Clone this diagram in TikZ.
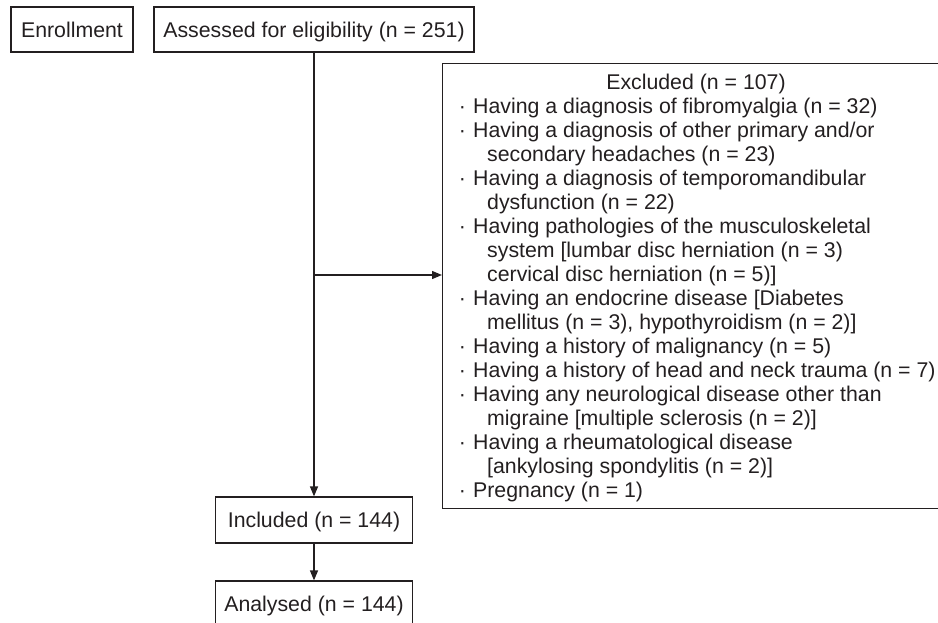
\documentclass[tikz,border=0pt]{standalone}
\usepackage{fontspec}
\setmainfont{Liberation Sans}
\usetikzlibrary{arrows.meta}
\definecolor{ink}{HTML}{231F20}
\newcommand\exbul{\makebox[14.3pt][l]{·}}
\newcommand\excont{\hspace*{28.3pt}}
\begin{document}
\begin{tikzpicture}[x=1pt,y=-1pt,
  font=\fontsize{21.3}{24}\selectfont,
  box/.style={draw=ink, line width=1.2pt, text=ink, inner sep=0pt,
    minimum height=45pt, text height=15.3pt, text depth=0pt, align=center},
  exl/.style={anchor=base west, inner sep=0pt, text=ink},
  arr/.style={draw=ink, line width=1.2pt, -{Triangle[length=10pt,width=8pt]}}]
\useasboundingbox (0,0) rectangle (938,623);

\node[box, minimum width=122pt] (enrol) at (72,29.5) {Enrollment};
\node[box, minimum width=320pt] (assess) at (314,29.5) {Assessed for eligibility (n = 251)};
\node[box, minimum width=197pt, minimum height=46pt] (incl) at (314,520) {Included (n = 144)};
\node[box, minimum width=197pt, minimum height=46pt] (anal) at (314,604) {Analysed (n = 144)};

\node[draw=ink, line width=1.2pt, inner sep=0pt, anchor=north west,
  minimum width=508pt, minimum height=445pt] (exbox) at (442,63) {};

\node[exl, anchor=base] (extitle) at (696,90) {Excluded (n = 107)};
\node[exl] (e1) at (458.7,114.00) {\exbul Having a diagnosis of fibromyalgia (n = 32)};
\node[exl] (e2) at (458.7,137.95) {\exbul Having a diagnosis of other primary and/or};
\node[exl] (e3) at (458.7,161.90) {\excont secondary headaches (n = 23)};
\node[exl] (e4) at (458.7,185.85) {\exbul Having a diagnosis of temporomandibular};
\node[exl] (e5) at (458.7,209.80) {\excont dysfunction (n = 22)};
\node[exl] (e6) at (458.7,233.75) {\exbul Having pathologies of the musculoskeletal};
\node[exl] (e7) at (458.7,257.70) {\excont system [lumbar disc herniation (n = 3)};
\node[exl] (e8) at (458.7,281.65) {\excont cervical disc herniation (n = 5)]};
\node[exl] (e9) at (458.7,305.60) {\exbul Having an endocrine disease [Diabetes};
\node[exl] (e10) at (458.7,329.55) {\excont mellitus (n = 3), hypothyroidism (n = 2)]};
\node[exl] (e11) at (458.7,353.50) {\exbul Having a history of malignancy (n = 5)};
\node[exl] (e12) at (458.7,377.45) {\exbul Having a history of head and neck trauma (n = 7)};
\node[exl] (e13) at (458.7,401.40) {\exbul Having any neurological disease other than};
\node[exl] (e14) at (458.7,425.35) {\excont migraine [multiple sclerosis (n = 2)]};
\node[exl] (e15) at (458.7,449.30) {\exbul Having a rheumatological disease};
\node[exl] (e16) at (458.7,473.25) {\excont [ankylosing spondylitis (n = 2)]};
\node[exl] (e17) at (458.7,497.20) {\exbul Pregnancy (n = 1)};

\coordinate (branch) at (314,275);
\draw[arr] (assess.south) -- (incl.north);
\draw[arr] (branch) -- (exbox.west |- branch);
\draw[arr] (incl.south) -- (anal.north);
\end{tikzpicture}
\end{document}
